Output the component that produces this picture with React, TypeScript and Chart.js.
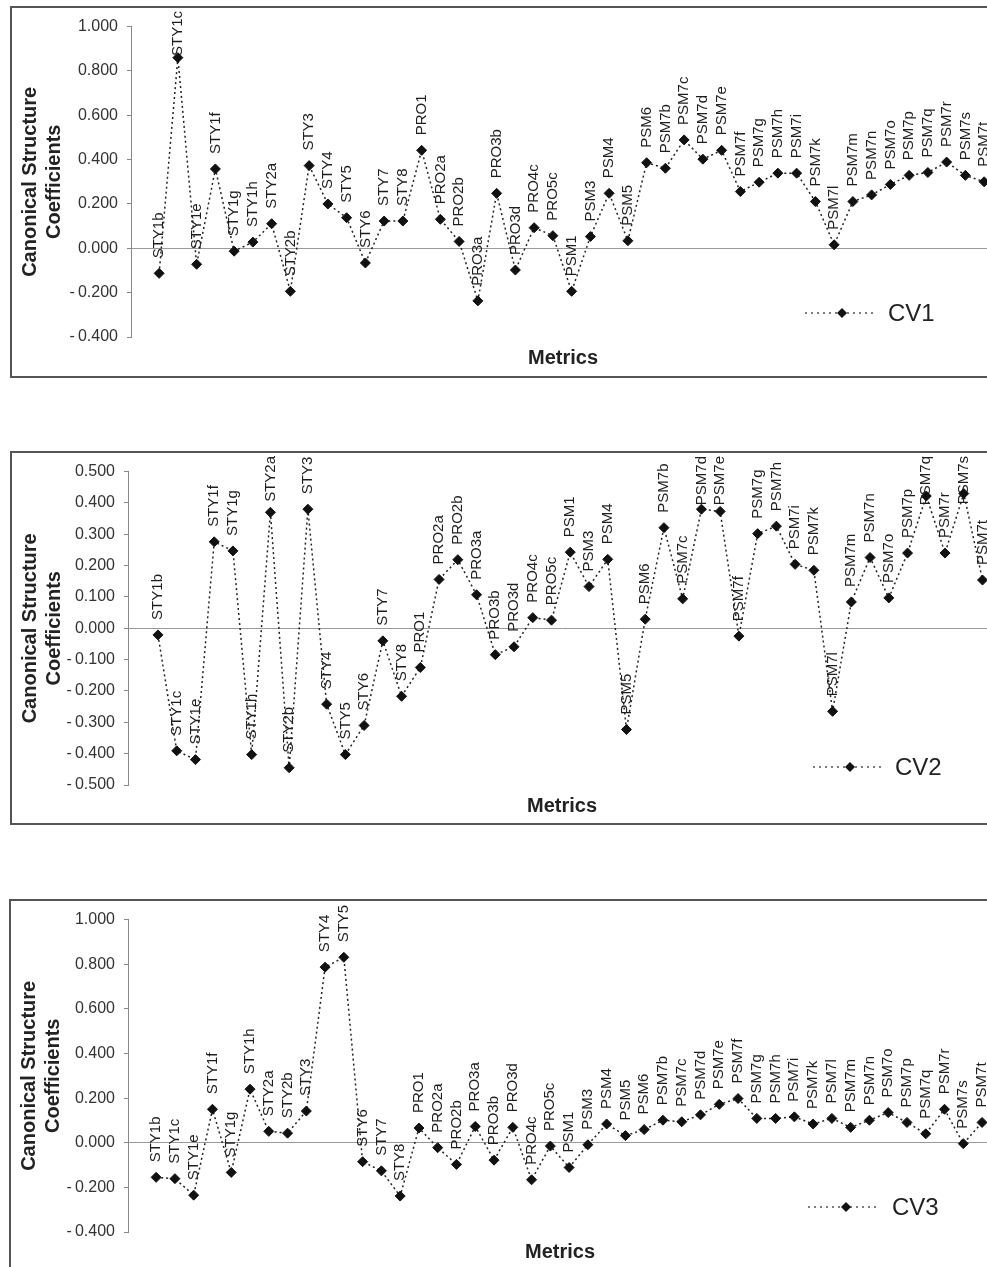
import React, { useEffect, useRef } from 'react';
import { Chart, registerables } from 'chart.js';

Chart.register(...registerables);

// ---------------- DATA ----------------
const METRICS = [
  'STY1b', 'STY1c', 'STY1e', 'STY1f', 'STY1g', 'STY1h', 'STY2a', 'STY2b', 'STY3', 'STY4',
  'STY5', 'STY6', 'STY7', 'STY8', 'PRO1', 'PRO2a', 'PRO2b', 'PRO3a', 'PRO3b', 'PRO3d',
  'PRO4c', 'PRO5c', 'PSM1', 'PSM3', 'PSM4', 'PSM5', 'PSM6', 'PSM7b', 'PSM7c', 'PSM7d',
  'PSM7e', 'PSM7f', 'PSM7g', 'PSM7h', 'PSM7i', 'PSM7k', 'PSM7l', 'PSM7m', 'PSM7n', 'PSM7o',
  'PSM7p', 'PSM7q', 'PSM7r', 'PSM7s', 'PSM7t',
];

const CV1 = [
  -0.113, 0.860, -0.072, 0.358, -0.013, 0.028, 0.111, -0.194, 0.373, 0.200,
  0.138, -0.066, 0.123, 0.123, 0.442, 0.131, 0.031, -0.237, 0.248, -0.098,
  0.093, 0.057, -0.194, 0.053, 0.248, 0.034, 0.386, 0.361, 0.489, 0.402,
  0.442, 0.256, 0.298, 0.339, 0.339, 0.211, 0.016, 0.211, 0.241, 0.288,
  0.329, 0.342, 0.389, 0.329, 0.300,
];

const CV2 = [
  -0.021, -0.391, -0.419, 0.276, 0.247, -0.403, 0.370, -0.445, 0.380, -0.242,
  -0.403, -0.310, -0.040, -0.217, -0.125, 0.156, 0.219, 0.107, -0.084, -0.059,
  0.034, 0.026, 0.243, 0.133, 0.220, -0.323, 0.029, 0.321, 0.094, 0.380,
  0.373, -0.025, 0.302, 0.326, 0.204, 0.185, -0.265, 0.084, 0.226, 0.097,
  0.240, 0.422, 0.240, 0.430, 0.154,
];

const CV3 = [
  -0.155, -0.161, -0.235, 0.150, -0.133, 0.240, 0.051, 0.043, 0.142, 0.787,
  0.831, -0.085, -0.126, -0.239, 0.066, -0.022, -0.097, 0.073, -0.078, 0.069,
  -0.166, -0.015, -0.111, -0.009, 0.084, 0.032, 0.059, 0.101, 0.094, 0.125,
  0.172, 0.198, 0.109, 0.109, 0.116, 0.084, 0.109, 0.069, 0.101, 0.135,
  0.091, 0.040, 0.150, -0.004, 0.091,
];

const Y_TITLE = ['Canonical Structure', 'Coefficients'];
const X_TITLE = 'Metrics';

// ---------------- STYLE / LAYOUT ----------------
const FONT = '"Liberation Sans", Arial, Helvetica, sans-serif';
const CANVAS_W = 1000;

type PanelCfg = {
  name: string;
  values: number[];
  left: number;
  top: number;
  innerH: number;
  axisX: number;
  xMin: number;
  xMax: number;
  padRight: number;
  yMin: number;
  yMax: number;
  yStep: number;
  titlePadTop: number;
  padBottom: number;
  legend: { x1: number; x2: number; xm: number; tx: number; y: number };
};

const PANELS: PanelCfg[] = [
  {
    name: 'CV1', values: CV1, left: 10, top: 6, innerH: 368, axisX: 119,
    xMin: -1.5, xMax: 44.58, padRight: 17, yMin: -0.4, yMax: 1.0, yStep: 0.2,
    titlePadTop: 9, padBottom: 6,
    legend: { x1: 793, x2: 863, xm: 830, tx: 876, y: 305 },
  },
  {
    name: 'CV2', values: CV2, left: 10, top: 451, innerH: 370, axisX: 116,
    xMin: -1.6, xMax: 44.72, padRight: 16, yMin: -0.5, yMax: 0.5, yStep: 0.1,
    titlePadTop: 9, padBottom: 5,
    legend: { x1: 801, x2: 871, xm: 838, tx: 883, y: 314 },
  },
  {
    name: 'CV3', values: CV3, left: 9, top: 899, innerH: 368, axisX: 117,
    xMin: -1.5, xMax: 44.53, padRight: 19, yMin: -0.4, yMax: 1.0, yStep: 0.2,
    titlePadTop: 8, padBottom: 5,
    legend: { x1: 797, x2: 867, xm: 835, tx: 881, y: 306 },
  },
];

const fmtTick = (v: number) => {
  const s = Math.abs(v) < 1e-9 ? '0.000' : v.toFixed(3);
  return s.startsWith('-') ? '-\u2009' + s.slice(1) : s;
};

// Rotated labels above each point
const pointLabels = {
  id: 'pointLabels',
  beforeDatasetsDraw(chart: any) {
    const { ctx } = chart;
    const meta = chart.getDatasetMeta(0);
    const labels: string[] = chart.data.labels;
    ctx.save();
    ctx.font = `15px ${FONT}`;
    ctx.fillStyle = '#1e1e1e';
    ctx.textBaseline = 'middle';
    ctx.textAlign = 'left';
    meta.data.forEach((el: any, i: number) => {
      const text = labels[i];
      const w = ctx.measureText(text).width;
      const start = Math.max(el.y - 15, 3 + w);
      ctx.save();
      ctx.translate(el.x, start);
      ctx.rotate(-Math.PI / 2);
      ctx.fillText(text, 0, 0);
      ctx.restore();
    });
    ctx.restore();
  },
};

// Legend (dotted line + diamond + series name)
const cvLegend = {
  id: 'cvLegend',
  afterDatasetsDraw(chart: any, _args: any, opts: any) {
    const { ctx } = chart;
    const ds = chart.data.datasets[0];
    const { x1, x2, xm, tx, y } = opts;
    ctx.save();
    ctx.strokeStyle = '#555';
    ctx.lineWidth = 1.5;
    ctx.setLineDash([2, 4]);
    ctx.beginPath();
    ctx.moveTo(x1, y);
    ctx.lineTo(x2, y);
    ctx.stroke();
    ctx.setLineDash([]);
    ctx.fillStyle = '#111';
    ctx.beginPath();
    ctx.moveTo(xm, y - 5);
    ctx.lineTo(xm + 5, y);
    ctx.lineTo(xm, y + 5);
    ctx.lineTo(xm - 5, y);
    ctx.closePath();
    ctx.fill();
    ctx.font = `24px ${FONT}`;
    ctx.fillStyle = '#222';
    ctx.textBaseline = 'middle';
    ctx.textAlign = 'left';
    ctx.fillText(ds.label, tx, y + 1);
    ctx.restore();
  },
};

function Panel({ cfg }: { cfg: PanelCfg }) {
  const ref = useRef<HTMLCanvasElement | null>(null);

  useEffect(() => {
    if (!ref.current) return;
    const chart = new Chart(ref.current, {
      type: 'line',
      data: {
        labels: METRICS,
        datasets: [
          {
            label: cfg.name,
            data: cfg.values.map((v, i) => ({ x: i, y: v })),
            borderColor: '#222',
            borderWidth: 1.5,
            borderDash: [2, 3],
            fill: false,
            tension: 0,
            pointStyle: 'rectRot',
            pointRadius: 5,
            pointBackgroundColor: '#111',
            pointBorderColor: '#111',
            pointBorderWidth: 1,
          },
        ],
      },
      options: {
        animation: false,
        responsive: false,
        devicePixelRatio: 1,
        events: [],
        layout: { padding: { top: 12, bottom: cfg.padBottom, left: 0, right: cfg.padRight } },
        plugins: {
          legend: { display: false },
          tooltip: { enabled: false },
          cvLegend: cfg.legend,
        } as any,
        scales: {
          x: {
            type: 'linear',
            min: cfg.xMin,
            max: cfg.xMax,
            ticks: { display: false },
            grid: { display: false, drawTicks: false },
            border: { display: false },
            title: {
              display: true,
              text: X_TITLE,
              color: '#222',
              font: { family: FONT, size: 20, weight: 'bold' },
              padding: { top: cfg.titlePadTop, bottom: 0 },
            },
          },
          y: {
            type: 'linear',
            min: cfg.yMin,
            max: cfg.yMax,
            ticks: {
              stepSize: cfg.yStep,
              callback: (v: any) => fmtTick(Number(v)),
              color: '#333',
              font: { family: FONT, size: 16 },
              padding: 9,
            },
            grid: {
              color: (c: any) => (c.tick && Math.abs(c.tick.value) < 1e-9 ? '#999' : 'rgba(0,0,0,0)'),
              tickColor: '#888',
              tickLength: 4,
              lineWidth: 1,
              drawOnChartArea: true,
            },
            border: { display: true, color: '#888', width: 1 },
            title: {
              display: true,
              text: Y_TITLE,
              color: '#222',
              font: { family: FONT, size: 20, weight: 'bold', lineHeight: 1.2 },
              padding: { top: 6, bottom: 0 },
            },
            afterFit: (s: any) => {
              s.width = cfg.axisX;
            },
          },
        },
      } as any,
      plugins: [pointLabels, cvLegend],
    });
    return () => chart.destroy();
  }, [cfg]);

  return (
    <div
      style={{
        position: 'absolute',
        left: cfg.left,
        top: cfg.top,
        width: CANVAS_W,
        height: cfg.innerH,
        border: '2px solid #555',
        background: '#fff',
      }}
    >
      <canvas ref={ref} width={CANVAS_W} height={cfg.innerH} style={{ display: 'block' }} />
    </div>
  );
}

export default function App() {
  return (
    <div
      style={{
        position: 'absolute',
        left: 0,
        top: 0,
        width: 987,
        height: 1267,
        overflow: 'hidden',
        background: '#fff',
      }}
    >
      {PANELS.map((p) => (
        <Panel key={p.name} cfg={p} />
      ))}
    </div>
  );
}
